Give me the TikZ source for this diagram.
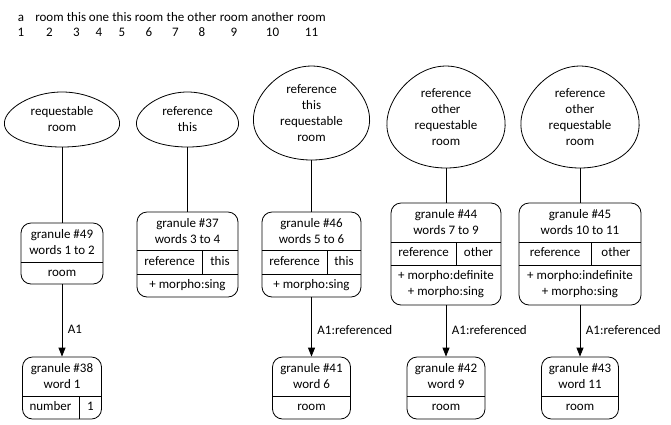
\documentclass[tikz,border=0pt]{standalone}
\usepackage{fontspec}
\setmainfont{Carlito}
\usetikzlibrary{arrows.meta,
                positioning,
                shapes.geometric}
\tikzset{
       txt/.style = {font=\fontsize{13}{16}\selectfont, align=center, inner sep=0pt},
      cell/.style = {txt, text height=9.5pt, text depth=3pt},   % <--- one line inside a record
       egg/.style = {txt, ellipse},                              % outline drawn by \eggline
      gran/.style = {draw, rounded corners=10pt, line width=0.8pt, inner sep=0pt},
       sep/.style = {line width=0.8pt},
      link/.style = {line width=0.8pt},
       arr/.style = {-{Triangle[length=9pt,width=7pt]}, line width=0.8pt},
       lbl/.style = {cell, anchor=west, xshift=5.5pt},
        }
% egg outline around a node: name, half width, half height
\newcommand\eggline[3]{%
  \draw[line width=0.8pt, shift={(#1.center)}]
    plot[smooth cycle, domain=0:355, samples=72, variable=\t]
    ({#2*cos(\t)*(1+0.15*sin(\t))}, {#3*sin(\t)});}

\begin{document}
\begin{tikzpicture}[x=1pt, y=-1pt]
  \useasboundingbox (0,0) rectangle (671,424);

  % the sentence
  \foreach \w/\x [count=\i] in {a/21, room/49.5, this/76.5, one/99, this/122, room/149,
                                the/175.5, other/202, room/234, another/272.5, room/311.5}{
    \node[txt, anchor=base] (w\i) at (\x,21) {\w};
    \node[txt, anchor=base] (n\i) at (\x,36) {\i};
  }

  % concepts
  \node[egg, minimum width=114, minimum height=55]  (e1) at (62,119.5)  {requestable\\room};
  \node[egg, minimum width=101, minimum height=55]  (e2) at (187.5,119.5) {reference\\this};
  \node[egg, minimum width=115, minimum height=94]  (e3) at (311.5,113) {reference\\this\\requestable\\room};
  \node[egg, minimum width=117, minimum height=102] (e4) at (446,117)   {reference\\other\\requestable\\room};
  \node[egg, minimum width=117, minimum height=102] (e5) at (580,117)   {reference\\other\\requestable\\room};
  \eggline{e1}{57}{27.5}
  \eggline{e2}{50.5}{27.5}
  \eggline{e3}{57.5}{47}
  \eggline{e4}{58.5}{51}
  \eggline{e5}{58.5}{51}

  % granules
  \node[gran, minimum width=82,  minimum height=61]  (g49) at (62,253.5)  {};
  \node[gran, minimum width=101, minimum height=85]  (g37) at (187.5,254.5) {};
  \node[gran, minimum width=99,  minimum height=85]  (g46) at (311.5,254.5) {};
  \node[gran, minimum width=110, minimum height=102] (g44) at (446,254)   {};
  \node[gran, minimum width=122, minimum height=102] (g45) at (580,254)   {};

  \node[gran, minimum width=79, minimum height=62] (g38) at (62,388)    {};
  \node[gran, minimum width=78, minimum height=62] (g41) at (311.5,388) {};
  \node[gran, minimum width=78, minimum height=62] (g42) at (446,388)   {};
  \node[gran, minimum width=77, minimum height=62] (g43) at (580,388)   {};

  % #49
  \node[txt] (g49h) at (62,242.5) {granule \#49\\words 1 to 2};
  \draw[sep] (g49.west |- 0,262) -- (g49.east |- 0,262);
  \node[cell] (g49a) at (62,273) {room};

  % #37
  \node[txt] (g37h) at (187.5,231) {granule \#37\\words 3 to 4};
  \draw[sep] (g37.west |- 0,250) -- (g37.east |- 0,250);
  \draw[sep] (g37.west |- 0,274) -- (g37.east |- 0,274);
  \draw[sep] (202,250) -- (202,274);
  \node[cell] (g37a) at (169.5,262) {reference};
  \node[cell] (g37b) at (220,262)   {this};
  \node[cell] (g37c) at (187.5,285.5) {+ morpho:sing};

  % #46
  \node[txt] (g46h) at (311.5,231) {granule \#46\\words 5 to 6};
  \draw[sep] (g46.west |- 0,250) -- (g46.east |- 0,250);
  \draw[sep] (g46.west |- 0,274) -- (g46.east |- 0,274);
  \draw[sep] (327,250) -- (327,274);
  \node[cell] (g46a) at (294.5,262) {reference};
  \node[cell] (g46b) at (344,262)   {this};
  \node[cell] (g46c) at (311.5,285.5) {+ morpho:sing};

  % #44
  \node[txt] (g44h) at (446,222) {granule \#44\\words 7 to 9};
  \draw[sep] (g44.west |- 0,242) -- (g44.east |- 0,242);
  \draw[sep] (g44.west |- 0,265) -- (g44.east |- 0,265);
  \draw[sep] (456,242) -- (456,265);
  \node[cell] (g44a) at (423.5,253.5) {reference};
  \node[cell] (g44b) at (478.5,253.5) {other};
  \node[txt]  (g44c) at (446,284.5)   {+ morpho:definite\\+ morpho:sing};

  % #45
  \node[txt] (g45h) at (580,222) {granule \#45\\words 10 to 11};
  \draw[sep] (g45.west |- 0,242) -- (g45.east |- 0,242);
  \draw[sep] (g45.west |- 0,265) -- (g45.east |- 0,265);
  \draw[sep] (591,242) -- (591,265);
  \node[cell] (g45a) at (555,253.5) {reference};
  \node[cell] (g45b) at (616,253.5) {other};
  \node[txt]  (g45c) at (580,284.5) {+ morpho:indefinite\\+ morpho:sing};

  % words
  \node[txt] (g38h) at (62,376) {granule \#38\\word 1};
  \draw[sep] (g38.west |- 0,396) -- (g38.east |- 0,396);
  \draw[sep] (79,396) -- (g38.south -| 79,0);
  \node[cell] (g38a) at (50.5,407.5) {number};
  \node[cell] (g38b) at (90.5,407.5) {1};

  \node[txt] (g41h) at (311.5,376) {granule \#41\\word 6};
  \draw[sep] (g41.west |- 0,396) -- (g41.east |- 0,396);
  \node[cell] (g41a) at (311.5,407.5) {room};

  \node[txt] (g42h) at (446,376) {granule \#42\\word 9};
  \draw[sep] (g42.west |- 0,396) -- (g42.east |- 0,396);
  \node[cell] (g42a) at (446,407.5) {room};

  \node[txt] (g43h) at (580,376) {granule \#43\\word 11};
  \draw[sep] (g43.west |- 0,396) -- (g43.east |- 0,396);
  \node[cell] (g43a) at (580,407.5) {room};

  % links
  \draw[link] (e1) -- (g49);
  \draw[link] (e2) -- (g37);
  \draw[link] (e3) -- (g46);
  \draw[link] (e4) -- (g44);
  \draw[link] (e5) -- (g45);

  \draw[arr] (g49) -- node[lbl, pos=0.64] {A1} (g38);
  \draw[arr] (g46) -- node[lbl, pos=0.57] {A1:referenced} (g41);
  \draw[arr] (g44) -- node[lbl, pos=0.5]  {A1:referenced} (g42);
  \draw[arr] (g45) -- node[lbl, pos=0.5]  {A1:referenced} (g43);
\end{tikzpicture}
\end{document}
